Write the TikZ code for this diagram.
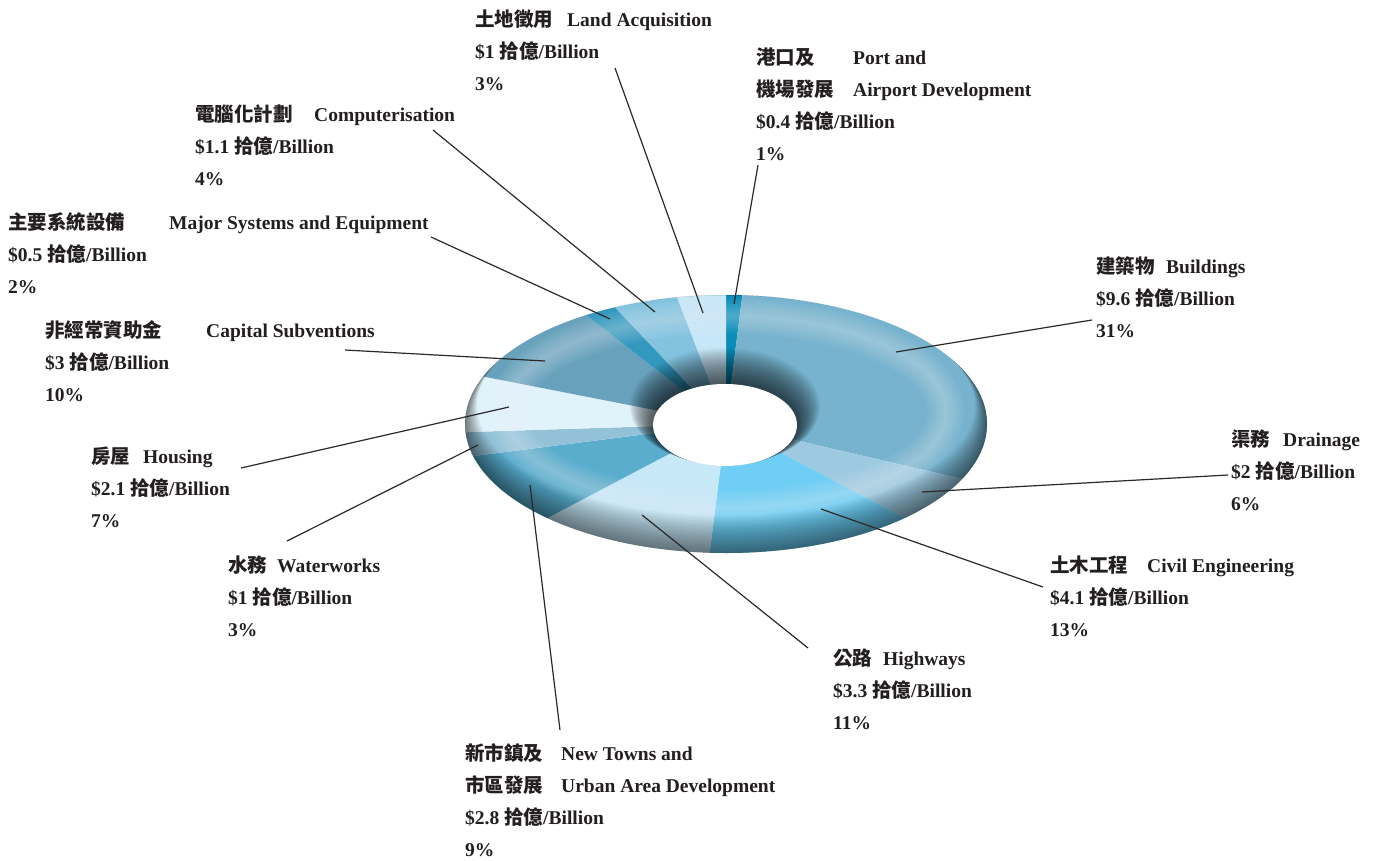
\documentclass[tikz,border=0pt]{standalone}
\usepackage{fontspec}
\setmainfont{Liberation Serif}
\newfontfamily\cjk{Noto Sans CJK TC}
\definecolor{txt}{HTML}{231F20}
\definecolor{lead}{HTML}{2A2A2A}
\definecolor{cPort}{HTML}{0A8DB8}
\definecolor{cBuild}{HTML}{77B3CE}
\definecolor{cDrain}{HTML}{9DCAE0}
\definecolor{cCivil}{HTML}{6ECEF3}
\definecolor{cHigh}{HTML}{C7E8F7}
\definecolor{cNew}{HTML}{5AADCD}
\definecolor{cWater}{HTML}{93C2D8}
\definecolor{cHouse}{HTML}{E0F2FA}
\definecolor{cCap}{HTML}{68A1BC}
\definecolor{cMajor}{HTML}{3398BE}
\definecolor{cComp}{HTML}{83C3E0}
\definecolor{cLand}{HTML}{C6E7F7}
\newcommand\cj[1]{{\cjk\bfseries #1}}
\newcommand\cjb[2]{\makebox[#1pt][l]{\cj{#2}}}
\newcommand\lbllines[1]{\vtop{\baselineskip=32pt\lineskiplimit=-\maxdimen\lineskip=0pt #1}}
\newcommand\seg[3]{\fill[#1] (726,424) -- ++(#2:261 and 129) arc[start angle=#2, end angle=#3, x radius=261, y radius=129] -- cycle;}
\begin{document}
\begin{tikzpicture}[x=1pt,y=-1pt,
  lbl/.style={anchor=base west, inner sep=0pt, text=txt, font=\fontsize{19.5}{32}\selectfont\bfseries},
  leader/.style={draw=lead, line width=1.2pt}]
\useasboundingbox[fill=white] (0,0) rectangle (1375,860);

% ring segments
\seg{cPort}{-90}{-86.4}
\seg{cBuild}{-86.4}{25.2}
\seg{cDrain}{25.2}{46.8}
\seg{cCivil}{46.8}{93.6}
\seg{cHigh}{93.6}{133.2}
\seg{cNew}{133.2}{165.6}
\seg{cWater}{165.6}{176.4}
\seg{cHouse}{176.4}{201.6}
\seg{cCap}{201.6}{237.6}
\seg{cMajor}{237.6}{244.8}
\seg{cComp}{244.8}{259.2}
\seg{cLand}{259.2}{270}

% shading
\begin{scope}
  \clip (726,424) ellipse [x radius=261, y radius=129];
  \foreach \w in {36,32,28,24,20,16,12,8,4}
    \draw[white, opacity=0.035, line width=\w pt] (726,412) ellipse [x radius=220, y radius=96];
  \foreach \k in {1,...,22}
    \fill[black, opacity=0.026, even odd rule] (726,424) ellipse [x radius=263, y radius=131]
      (726,{424-0.85*\k}) ellipse [x radius={261-0.55*\k}, y radius={129-0.85*\k}];
  \foreach \k in {1,...,22}
    \fill[black, opacity=0.038] (725,{425-0.85*\k}) ellipse [x radius={72+1.05*\k}, y radius={41+0.78*\k}];
\end{scope}
\fill[white] (725,425) ellipse [x radius=72, y radius=41];

% labels
\node[lbl] (land) at (475,26) {\lbllines{\hbox{\cjb{92}{土地徵用}Land Acquisition}\hbox{\$1 \cj{拾億}/Billion}\hbox{3\%}}};
\node[lbl] (port) at (756,64) {\lbllines{\hbox{\cjb{97}{港口及}Port and}\hbox{\cjb{97}{機場發展}Airport Development}\hbox{\$0.4 \cj{拾億}/Billion}\hbox{1\%}}};
\node[lbl] (comp) at (195,121) {\lbllines{\hbox{\cjb{119}{電腦化計劃}Computerisation}\hbox{\$1.1 \cj{拾億}/Billion}\hbox{4\%}}};
\node[lbl] (major) at (8,229) {\lbllines{\hbox{\cjb{161}{主要系統設備}Major Systems and Equipment}\hbox{\$0.5 \cj{拾億}/Billion}\hbox{2\%}}};
\node[lbl] (cap) at (45,337) {\lbllines{\hbox{\cjb{161}{非經常資助金}Capital Subventions}\hbox{\$3 \cj{拾億}/Billion}\hbox{10\%}}};
\node[lbl] (house) at (91,463) {\lbllines{\hbox{\cjb{52}{房屋}Housing}\hbox{\$2.1 \cj{拾億}/Billion}\hbox{7\%}}};
\node[lbl] (water) at (228,572) {\lbllines{\hbox{\cjb{49}{水務}Waterworks}\hbox{\$1 \cj{拾億}/Billion}\hbox{3\%}}};
\node[lbl] (newt) at (465,760) {\lbllines{\hbox{\cjb{96}{新市鎮及}New Towns and}\hbox{\cjb{96}{市區發展}Urban Area Development}\hbox{\$2.8 \cj{拾億}/Billion}\hbox{9\%}}};
\node[lbl] (high) at (833,665) {\lbllines{\hbox{\cjb{50}{公路}Highways}\hbox{\$3.3 \cj{拾億}/Billion}\hbox{11\%}}};
\node[lbl] (civil) at (1050,572) {\lbllines{\hbox{\cjb{97}{土木工程}Civil Engineering}\hbox{\$4.1 \cj{拾億}/Billion}\hbox{13\%}}};
\node[lbl] (drain) at (1231,446) {\lbllines{\hbox{\cjb{52}{渠務}Drainage}\hbox{\$2 \cj{拾億}/Billion}\hbox{6\%}}};
\node[lbl] (build) at (1096,273) {\lbllines{\hbox{\cjb{70}{建築物}Buildings}\hbox{\$9.6 \cj{拾億}/Billion}\hbox{31\%}}};

% leader end points
\coordinate (landA) at (615,68);   \coordinate (landB) at (703,313);
\coordinate (portA) at (758,165);  \coordinate (portB) at (734,304);
\coordinate (compA) at (433,130);  \coordinate (compB) at (655,312);
\coordinate (majorA) at (431,237); \coordinate (majorB) at (610,319);
\coordinate (capA) at (345,350);   \coordinate (capB) at (545,361);
\coordinate (houseA) at (241,468); \coordinate (houseB) at (509,407);
\coordinate (waterA) at (287,541); \coordinate (waterB) at (478,445);
\coordinate (newtA) at (560,730);  \coordinate (newtB) at (530,485);
\coordinate (highA) at (808,648);  \coordinate (highB) at (642,515);
\coordinate (civilA) at (1043,587);\coordinate (civilB) at (821,509);
\coordinate (drainA) at (1228,475);\coordinate (drainB) at (922,492);
\coordinate (buildA) at (1092,320);\coordinate (buildB) at (896,352);

\foreach \n in {land,port,comp,major,cap,house,water,newt,high,civil,drain,build}
  \draw[leader] (\n A) -- (\n B);
\end{tikzpicture}
\end{document}
